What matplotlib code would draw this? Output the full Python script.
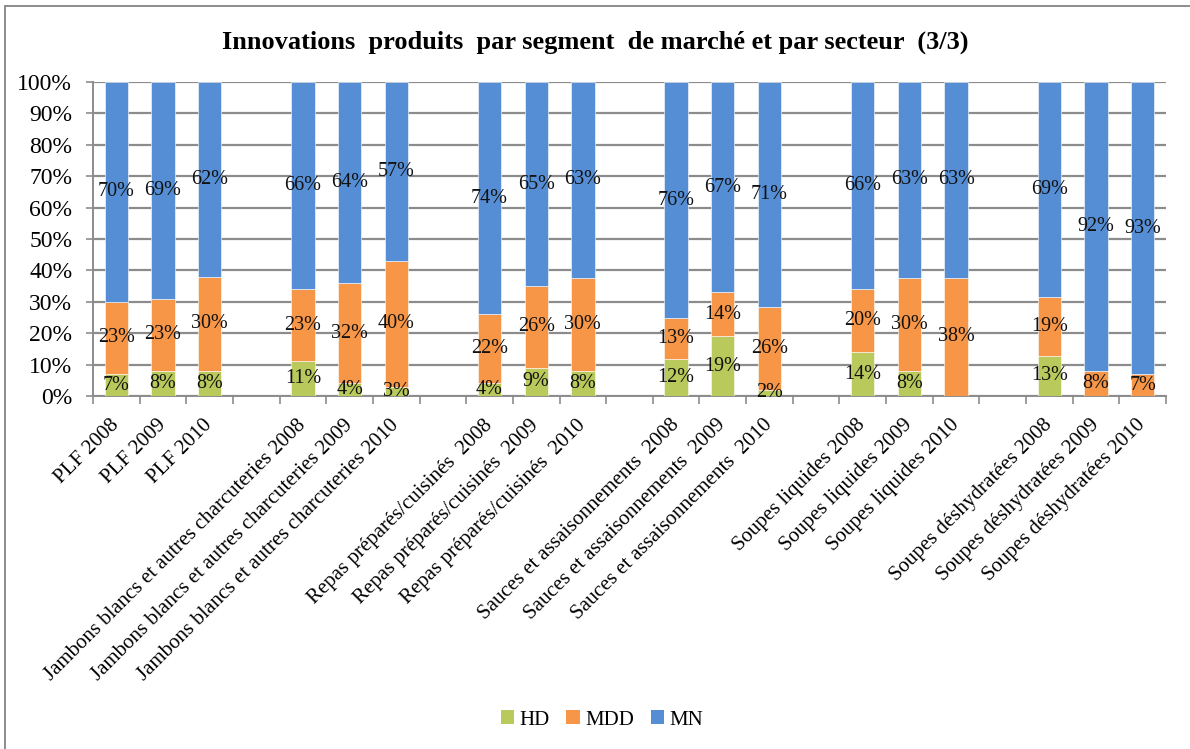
import matplotlib
matplotlib.use("Agg")
import matplotlib.pyplot as plt
from matplotlib.patches import Patch, Rectangle
import numpy as np

plt.rcParams['font.family'] = ['Liberation Serif', 'DejaVu Serif']

# Sectors and years (one bar per sector/year, a blank slot between sectors)
sectors = [
    "PLF",
    "Jambons blancs et autres charcuteries",
    "Repas préparés/cuisinés ",
    "Sauces et assaisonnements ",
    "Soupes liquides",
    "Soupes déshydratées",
]
years = ["2008", "2009", "2010"]

# Shares per market segment (%), in sector/year order
hd = [7, 8, 8, 11, 4, 3, 4, 9, 8, 12, 19, 2, 14, 8, 0, 13, 0, 0]
mdd = [23, 23, 30, 23, 32, 40, 22, 26, 30, 13, 14, 26, 20, 30, 38, 19, 8, 7]
mn = [70, 69, 62, 66, 64, 57, 74, 65, 63, 76, 67, 71, 66, 63, 63, 69, 92, 93]

series = ["HD", "MDD", "MN"]
colors = ["#B9C95B", "#F79646", "#558ED5"]

labels = []
positions = []
for g, s in enumerate(sectors):
    for k, y in enumerate(years):
        labels.append(f"{s} {y}")
        positions.append(g * 4 + k)
positions = np.array(positions)

data = np.array([hd, mdd, mn], dtype=float)
shares = data / data.sum(axis=0) * 100.0  # 100 % stacked

fig = plt.figure(figsize=(11.9, 7.49), dpi=100)
ax = fig.add_axes([93 / 1190, 1 - 396 / 749, (1166 - 93) / 1190, (396 - 82) / 749])

bottom = np.zeros(len(positions))
for i, name in enumerate(series):
    ax.bar(positions, shares[i], bottom=bottom, width=0.5, color=colors[i],
           edgecolor="white", linewidth=0.4, label=name, zorder=3)
    for x, b, h, v in zip(positions, bottom, shares[i], data[i]):
        if v > 0:
            ax.text(x, b + h / 2, f"{int(v)}%", ha="center", va="center",
                    fontsize=14.5, color="#111111", zorder=4)
    bottom += shares[i]

ax.set_xlim(-0.5, 22.5)
ax.set_ylim(0, 100)
ax.set_yticks(np.arange(0, 101, 10))
ax.set_yticklabels([f"{v}%" for v in range(0, 101, 10)], fontsize=17)
ax.yaxis.grid(True, color="#8C8C8C", linewidth=1.6, zorder=0)
ax.tick_params(axis="y", length=5, width=1.2, color="#8C8C8C", pad=10)

ax.set_xticks(positions)
ax.set_xticklabels(labels, rotation=45, ha="right", va="center",
                   rotation_mode="anchor", fontsize=15)
ax.tick_params(axis="x", length=0, pad=19)
ax.set_xticks(np.arange(-0.5, 23, 1), minor=True)
ax.tick_params(axis="x", which="minor", length=6, width=1.2, color="#8C8C8C")

for sp in ["top", "right"]:
    ax.spines[sp].set_visible(False)
ax.spines["left"].set_color("#8C8C8C")
ax.spines["left"].set_linewidth(1.4)
ax.spines["bottom"].set_color("#8C8C8C")
ax.spines["bottom"].set_linewidth(1.4)

fig.text(0.5, 1 - 42 / 749,
         "Innovations  produits  par segment  de marché et par secteur  (3/3)",
         ha="center", va="center", fontsize=19, fontweight="bold")

handles = [Patch(facecolor=c, label=n) for n, c in zip(series, colors)]
fig.legend(handles=handles, loc="center", bbox_to_anchor=(602 / 1190, 1 - 720 / 749),
           ncol=3, frameon=False, fontsize=15, handlelength=0.65, handleheight=0.65,
           handletextpad=0.25, columnspacing=0.8)

# chart-area frame
fig.patches.append(Rectangle((5 / 1190, -0.1), 1.2, 1 - 6 / 749 + 0.1,
                             transform=fig.transFigure, fill=False,
                             edgecolor="#8C8C8C", linewidth=1.4))

fig.savefig("out.png", dpi=100)
